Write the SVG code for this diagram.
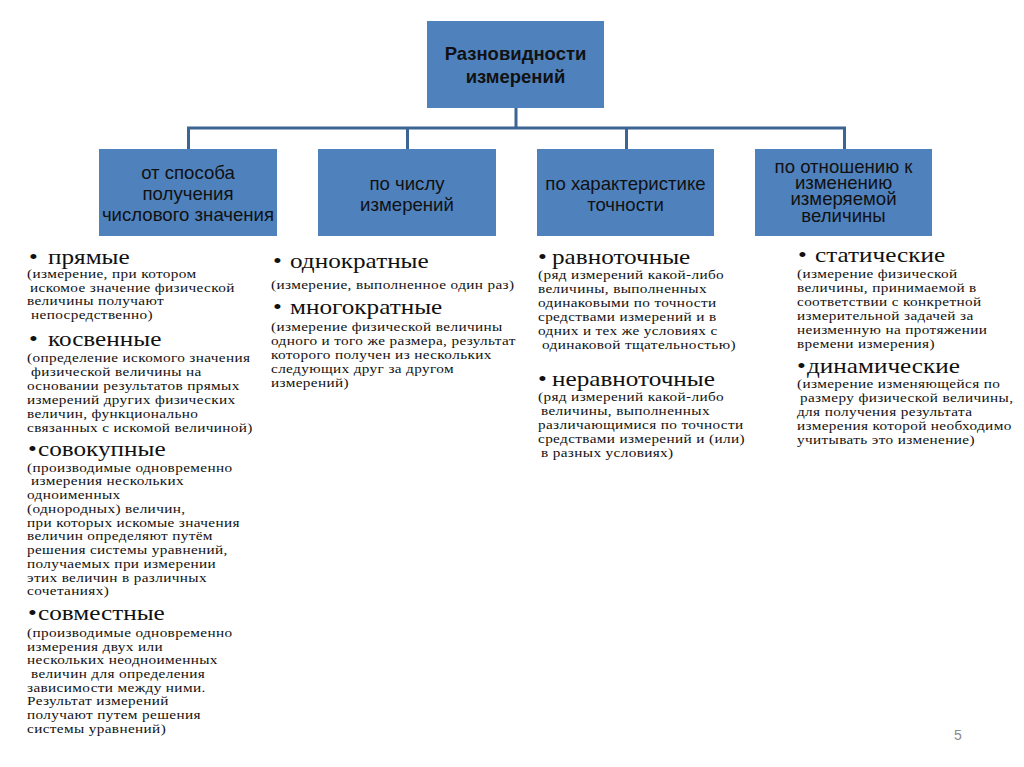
<svg xmlns="http://www.w3.org/2000/svg" width="1024" height="767" viewBox="0 0 1024 767">
<style>
.box{fill:#4f81bd;}
.bt{font-family:"Liberation Sans",Arial,sans-serif;font-size:18.6px;fill:#111;text-anchor:middle;}
.tt{font-family:"Liberation Sans",Arial,sans-serif;font-size:18.5px;font-weight:bold;fill:#111;text-anchor:middle;}
.con{stroke:#3d6593;stroke-width:3;fill:none;}
.h{font-family:"Liberation Serif","Times New Roman",serif;font-size:21px;fill:#111;}
.d{font-family:"Liberation Serif","Times New Roman",serif;font-size:12.5px;letter-spacing:0.3px;fill:#111;}
.pg{font-family:"Liberation Sans",Arial,sans-serif;font-size:14px;fill:#8a8a8a;}
</style>
<rect width="1024" height="767" fill="#fff"/>
<g id="connectors">
<path class="con" d="M516 108V128M188.5 149V128H844.5V149M407.5 128V149M626.5 128V149"/>
</g>
<g id="root">
<rect class="box" x="427" y="21" width="177" height="87"/>
<text class="tt" x="515.5" y="59.5">Разновидности</text>
<text class="tt" x="515.5" y="82.5">измерений</text>
</g>
<g id="n1">
<rect class="box" x="99" y="149" width="178" height="87"/>
<text class="bt" x="188" y="178.5">от способа</text>
<text class="bt" x="188" y="199.5">получения</text>
<text class="bt" x="188" y="220.5">числового значения</text>
</g>
<g id="n2">
<rect class="box" x="318" y="149" width="178" height="87"/>
<text class="bt" x="407" y="189.5">по числу</text>
<text class="bt" x="407" y="210.5">измерений</text>
</g>
<g id="n3">
<rect class="box" x="537" y="149" width="177" height="87"/>
<text class="bt" x="625.5" y="189.5">по характеристике</text>
<text class="bt" x="625.5" y="210.5">точности</text>
</g>
<g id="n4">
<rect class="box" x="755" y="149" width="177" height="87"/>
<text class="bt" x="843.5" y="172.5">по отношению к</text>
<text class="bt" x="843.5" y="188.5">изменению</text>
<text class="bt" x="843.5" y="204.5">измеряемой</text>
<text class="bt" x="843.5" y="221.5">величины</text>
</g>
<g id="col1">
<text class="h" transform="translate(29,264) scale(1.2,1)">•</text><text class="h" transform="translate(48,264) scale(1.2,1)">прямые</text>
<text class="d" transform="translate(27,278) scale(1.22,1)">(измерение, при котором</text>
<text class="d" transform="translate(30,291.5) scale(1.22,1)">искомое значение физической</text>
<text class="d" transform="translate(27,305) scale(1.22,1)">величины получают</text>
<text class="d" transform="translate(31,318.5) scale(1.22,1)">непосредственно)</text>
<text class="h" transform="translate(29,346) scale(1.2,1)">•</text><text class="h" transform="translate(48,346) scale(1.2,1)">косвенные</text>
<text class="d" transform="translate(27,362) scale(1.22,1)">(определение искомого значения</text>
<text class="d" transform="translate(31,376) scale(1.22,1)">физической величины на</text>
<text class="d" transform="translate(27,390) scale(1.22,1)">основании результатов прямых</text>
<text class="d" transform="translate(27,404) scale(1.22,1)">измерений других физических</text>
<text class="d" transform="translate(27,418) scale(1.22,1)">величин, функционально</text>
<text class="d" transform="translate(27,432) scale(1.22,1)">связанных с искомой величиной)</text>
<text class="h" transform="translate(28,456) scale(1.2,1)">•</text><text class="h" transform="translate(38,456) scale(1.2,1)">совокупные</text>
<text class="d" transform="translate(27,472) scale(1.22,1)">(производимые одновременно</text>
<text class="d" transform="translate(31,485) scale(1.22,1)">измерения нескольких</text>
<text class="d" transform="translate(27,499) scale(1.22,1)">одноименных</text>
<text class="d" transform="translate(27,513) scale(1.22,1)">(однородных) величин,</text>
<text class="d" transform="translate(27,527) scale(1.22,1)">при которых искомые значения</text>
<text class="d" transform="translate(27,540) scale(1.22,1)">величин определяют путём</text>
<text class="d" transform="translate(27,554) scale(1.22,1)">решения системы уравнений,</text>
<text class="d" transform="translate(27,568) scale(1.22,1)">получаемых при измерении</text>
<text class="d" transform="translate(27,582) scale(1.22,1)">этих величин в различных</text>
<text class="d" transform="translate(27,595) scale(1.22,1)">сочетаниях)</text>
<text class="h" transform="translate(28,620) scale(1.2,1)">•</text><text class="h" transform="translate(38,620) scale(1.2,1)">совместные</text>
<text class="d" transform="translate(27,637) scale(1.22,1)">(производимые одновременно</text>
<text class="d" transform="translate(27,651) scale(1.22,1)">измерения двух или</text>
<text class="d" transform="translate(27,664) scale(1.22,1)">нескольких неодноименных</text>
<text class="d" transform="translate(31,678) scale(1.22,1)">величин для определения</text>
<text class="d" transform="translate(27,692) scale(1.22,1)">зависимости между ними.</text>
<text class="d" transform="translate(27,705) scale(1.22,1)">Результат измерений</text>
<text class="d" transform="translate(27,719) scale(1.22,1)">получают путем решения</text>
<text class="d" transform="translate(27,733) scale(1.22,1)">системы уравнений)</text>
</g>
<g id="col2">
<text class="h" transform="translate(273,268) scale(1.2,1)">•</text><text class="h" transform="translate(290,268) scale(1.2,1)">однократные</text>
<text class="d" transform="translate(271,289) scale(1.22,1)">(измерение, выполненное один раз)</text>
<text class="h" transform="translate(273,314) scale(1.2,1)">•</text><text class="h" transform="translate(290,314) scale(1.2,1)">многократные</text>
<text class="d" transform="translate(271,331) scale(1.22,1)">(измерение физической величины</text>
<text class="d" transform="translate(271,345) scale(1.22,1)">одного и того же размера, результат</text>
<text class="d" transform="translate(271,359) scale(1.22,1)">которого получен из нескольких</text>
<text class="d" transform="translate(271,373) scale(1.22,1)">следующих друг за другом</text>
<text class="d" transform="translate(271,387) scale(1.22,1)">измерений)</text>
</g>
<g id="col3">
<text class="h" transform="translate(538,264) scale(1.2,1)">•</text><text class="h" transform="translate(552,264) scale(1.2,1)">равноточные</text>
<text class="d" transform="translate(538,279) scale(1.22,1)">(ряд измерений какой-либо</text>
<text class="d" transform="translate(538,293) scale(1.22,1)">величины, выполненных</text>
<text class="d" transform="translate(538,307) scale(1.22,1)">одинаковыми по точности</text>
<text class="d" transform="translate(538,321) scale(1.22,1)">средствами измерений и в</text>
<text class="d" transform="translate(538,335) scale(1.22,1)">одних и тех же условиях с</text>
<text class="d" transform="translate(542,349) scale(1.22,1)">одинаковой тщательностью)</text>
<text class="h" transform="translate(538,386) scale(1.2,1)">•</text><text class="h" transform="translate(552,386) scale(1.2,1)">неравноточные</text>
<text class="d" transform="translate(538,401) scale(1.22,1)">(ряд измерений какой-либо</text>
<text class="d" transform="translate(541,415) scale(1.22,1)">величины, выполненных</text>
<text class="d" transform="translate(538,429) scale(1.22,1)">различающимися по точности</text>
<text class="d" transform="translate(538,443) scale(1.22,1)">средствами измерений и (или)</text>
<text class="d" transform="translate(541,457) scale(1.22,1)">в разных условиях)</text>
</g>
<g id="col4">
<text class="h" transform="translate(798,262) scale(1.2,1)">•</text><text class="h" transform="translate(815,262) scale(1.2,1)">статические</text>
<text class="d" transform="translate(797,277.5) scale(1.22,1)">(измерение физической</text>
<text class="d" transform="translate(797,291.5) scale(1.22,1)">величины, принимаемой в</text>
<text class="d" transform="translate(797,305.5) scale(1.22,1)">соответствии с конкретной</text>
<text class="d" transform="translate(797,319.5) scale(1.22,1)">измерительной задачей за</text>
<text class="d" transform="translate(797,333.5) scale(1.22,1)">неизменную на протяжении</text>
<text class="d" transform="translate(797,347.5) scale(1.22,1)">времени измерения)</text>
<text class="h" transform="translate(797,372.5) scale(1.2,1)">•</text><text class="h" transform="translate(807,372.5) scale(1.2,1)">динамические</text>
<text class="d" transform="translate(797,387.5) scale(1.22,1)">(измерение изменяющейся по</text>
<text class="d" transform="translate(800,401.5) scale(1.22,1)">размеру физической величины,</text>
<text class="d" transform="translate(797,415.5) scale(1.22,1)">для получения результата</text>
<text class="d" transform="translate(797,429.5) scale(1.22,1)">измерения которой необходимо</text>
<text class="d" transform="translate(797,443.5) scale(1.22,1)">учитывать это изменение)</text>
</g>
<text class="pg" x="954" y="740">5</text>
</svg>
